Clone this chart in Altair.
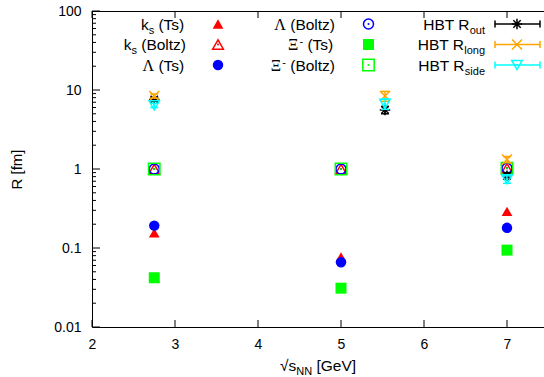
import altair as alt
import pandas as pd

# ---------------- data ----------------
x_particles = [2.75, 5.0, 7.0]
ks_ts = [0.155, 0.077, 0.29]
ks_boltz = [1.0, 1.0, 1.02]
lambda_ts = [0.192, 0.066, 0.18]
lambda_boltz = [1.0, 1.0, 1.02]
xi_ts = [0.042, 0.031, 0.094]
xi_boltz = [1.0, 1.0, 1.02]

x_hbt = [2.75, 5.53, 7.0]
r_out = [7.6, 5.6, 0.82]
r_out_err = [0.4, 0.6, 0.08]
r_long = [8.4, 8.4, 1.32]
r_long_err = [0.5, 1.2, 0.12]
r_side = [6.4, 6.7, 0.74]
r_side_err = [0.4, 1.0, 0.08]

x_tick_values = [2, 3, 4, 5, 6, 7]
y_tick_values = [0.01, 0.1, 1, 10, 100]
y_minor_values = [m * 10.0 ** e for e in range(-2, 2) for m in range(2, 10)]

# ---------------- layout / style ----------------
W, H = 452, 316
PX_PER_UNIT = 83
FONT = "Liberation Sans"
GREEK_FONT = "Liberation Serif"
FS = {"n": 15.5, "g": 16, "sub": 11, "sup": 11}
SHIFT = {"n": 0, "g": 0, "sub": 4, "sup": -5}

RED, BLUE, GREEN = "#ff0000", "#0000ff", "#00ff00"
ORANGE, CYAN, BLACK = "#ffa500", "#00ffff", "#000000"

STAR = "M-1,0L1,0M0,-1L0,1M-0.7,-0.7L0.7,0.7M-0.7,0.7L0.7,-0.7"
CROSS = "M-1,-1L1,1M-1,1L1,-1"
HCAP = "M-1,0L1,0"

xscale = alt.Scale(domain=[2, 2 + W / PX_PER_UNIT], nice=False, zero=False)
yscale = alt.Scale(type="log", domain=[0.01, 100], nice=False)

X_AXIS = alt.Axis(
    values=x_tick_values, ticks=False, tickSize=0, grid=False,
    domainColor=BLACK, domainWidth=1, labelFont=FONT, labelFontSize=14,
    labelColor=BLACK, labelPadding=10, labelFlush=False,
    labelOverlap=False, title=None)
Y_AXIS = alt.Axis(
    values=y_tick_values, format="~g", ticks=False, tickSize=0,
    grid=False, domainColor=BLACK, domainWidth=1, labelFont=FONT,
    labelFontSize=14, labelColor=BLACK, labelPadding=11,
    labelFlush=False, labelOverlap=False, title="R [fm]",
    titleFont=FONT, titleFontSize=15, titleFontWeight="normal",
    titleColor=BLACK, titleX=-76, titleY=H / 2, titleAngle=270,
    titleAlign="center", titleBaseline="middle")


def XF(field):
    return alt.X(field, scale=xscale, axis=X_AXIS)


def YF(field):
    return alt.Y(field, scale=yscale, axis=Y_AXIS)


layers = []

# ---- axes & inward ticks ----
xt = pd.DataFrame({"v": x_tick_values})
layers.append(alt.Chart(xt).mark_rule(color=BLACK, strokeWidth=1).encode(
    x=XF("v:Q"), y=alt.value(H), y2=alt.value(H - 7)))
layers.append(alt.Chart(xt).mark_rule(color=BLACK, strokeWidth=1).encode(
    x=XF("v:Q"), y=alt.value(0), y2=alt.value(7)))

yt = pd.DataFrame({"v": y_tick_values})
layers.append(alt.Chart(yt).mark_rule(color=BLACK, strokeWidth=1).encode(
    y=YF("v:Q"), x=alt.value(0), x2=alt.value(8)))
ym = pd.DataFrame({"v": y_minor_values})
layers.append(alt.Chart(ym).mark_rule(color=BLACK, strokeWidth=1).encode(
    y=YF("v:Q"), x=alt.value(0), x2=alt.value(4)))

# top frame line
layers.append(
    alt.Chart(pd.DataFrame({"a": [0]})).mark_rule(color=BLACK, strokeWidth=1).encode(
        x=alt.value(0), x2=alt.value(W), y=alt.value(0.5)))


def points(xv, yv, shape, color, filled, size, sw=1.5, dot=False):
    df = pd.DataFrame({"x": xv, "y": yv})
    out = [alt.Chart(df).mark_point(shape=shape, filled=filled, size=size,
                                    color=color, strokeWidth=sw, opacity=1)
           .encode(x=XF("x:Q"), y=YF("y:Q"))]
    if dot:
        out.append(alt.Chart(df).mark_point(shape="circle", filled=True, size=4,
                                            color=color, opacity=1)
                   .encode(x=XF("x:Q"), y=YF("y:Q")))
    return out


def errbars(xv, yv, ev, color):
    df = pd.DataFrame({"x": xv,
                       "lo": [a - b for a, b in zip(yv, ev)],
                       "hi": [a + b for a, b in zip(yv, ev)]})
    out = [alt.Chart(df).mark_rule(color=color, strokeWidth=1.5).encode(
        x=XF("x:Q"), y=YF("lo:Q"), y2="hi:Q")]
    for col in ("lo", "hi"):
        out.append(alt.Chart(df).mark_point(shape=HCAP, size=64, color=color,
                                            strokeWidth=1.5, opacity=1)
                   .encode(x=XF("x:Q"), y=YF(col + ":Q")))
    return out


# ---- data marks ----
layers += points(x_particles, ks_ts, "triangle-up", RED, True, 115)
layers += points(x_particles, ks_boltz, "triangle-up", RED, False, 115, dot=True)
layers += points(x_particles, lambda_ts, "circle", BLUE, True, 110)
layers += points(x_particles, lambda_boltz, "circle", BLUE, False, 100, dot=True)
layers += points(x_particles, xi_ts, "square", GREEN, True, 121)
layers += points(x_particles, xi_boltz, "square", GREEN, False, 130, dot=True)

layers += errbars(x_hbt, r_out, r_out_err, BLACK)
layers += points(x_hbt, r_out, STAR, BLACK, False, 110, sw=1.5)
layers += errbars(x_hbt, r_long, r_long_err, ORANGE)
layers += points(x_hbt, r_long, CROSS, ORANGE, False, 100, sw=1.5)
layers += errbars(x_hbt, r_side, r_side_err, CYAN)
layers += points(x_hbt, r_side, "triangle-down", CYAN, False, 110, sw=1.5, dot=True)

# ---- text with sub/superscripts ----
W_SANS = {" ": 278, "(": 333, ")": 333, "T": 611, "s": 500, "B": 667, "o": 556,
          "l": 222, "t": 278, "z": 500, "u": 556, "n": 556, "g": 556, "i": 222,
          "d": 556, "e": 556, "H": 722, "R": 722, "k": 500, "-": 333, "N": 722,
          "G": 778, "V": 667, "[": 278, "]": 278, "\u221a": 549}
W_GREEK = {"\u039b": 722, "\u039e": 722}


def seg_w(text, kind):
    table = W_GREEK if kind == "g" else W_SANS
    return sum(table.get(c, 556) for c in text) / 1000.0 * FS[kind]


def text_run(segs, x_start, baseline):
    out = []
    x = x_start
    for text, kind in segs:
        w = seg_w(text, kind)
        lead = len(text) - len(text.lstrip(" "))
        draw_x = x + seg_w(" " * lead, kind)
        t = text.strip(" ")
        out.append(alt.Chart(pd.DataFrame({"t": [t]})).mark_text(
            align="left", baseline="alphabetic",
            font=GREEK_FONT if kind == "g" else FONT,
            fontSize=FS[kind], color=BLACK).encode(
            text="t:N", x=alt.value(draw_x), y=alt.value(baseline + SHIFT[kind])))
        x += w
    return out


def run_width(segs):
    return sum(seg_w(t, k) for t, k in segs)


ROWS = [13, 33.5, 54]
legend = [
    ([("k", "n"), ("s", "sub"), (" (Ts)", "n")], 94, 0, ("triangle-up", RED, True, 115, False)),
    ([("k", "n"), ("s", "sub"), (" (Boltz)", "n")], 94, 1, ("triangle-up", RED, False, 115, True)),
    ([("\u039b", "g"), (" (Ts)", "n")], 94, 2, ("circle", BLUE, True, 110, False)),
    ([("\u039b", "g"), (" (Boltz)", "n")], 243, 0, ("circle", BLUE, False, 100, True)),
    ([("\u039e", "g"), ("-", "sup"), (" (Ts)", "n")], 243, 1, ("square", GREEN, True, 121, False)),
    ([("\u039e", "g"), ("-", "sup"), (" (Boltz)", "n")], 243, 2, ("square", GREEN, False, 130, True)),
    ([("HBT R", "n"), ("out", "sub")], 393, 0, (STAR, BLACK, False, 110, False)),
    ([("HBT R", "n"), ("long", "sub")], 393, 1, (CROSS, ORANGE, False, 100, False)),
    ([("HBT R", "n"), ("side", "sub")], 393, 2, ("triangle-down", CYAN, False, 110, True)),
]
SYM_X = {94: 126, 243: 276.5, 393: 425}

one = pd.DataFrame({"a": [0]})
for segs, right, row, (shape, color, filled, size, dot) in legend:
    cy = ROWS[row]
    layers += text_run(segs, right - run_width(segs), cy + 5.5)
    sx = SYM_X[right]
    if right == 393:
        layers.append(alt.Chart(one).mark_rule(color=color, strokeWidth=1.5).encode(
            x=alt.value(403), x2=alt.value(448), y=alt.value(cy)))
        for ex in (403, 448):
            layers.append(alt.Chart(one).mark_rule(color=color, strokeWidth=1.5).encode(
                x=alt.value(ex), y=alt.value(cy - 3.5), y2=alt.value(cy + 3.5)))
    layers.append(alt.Chart(one).mark_point(shape=shape, filled=filled, size=size,
                                            color=color, strokeWidth=1.5, opacity=1)
                  .encode(x=alt.value(sx), y=alt.value(cy)))
    if dot:
        layers.append(alt.Chart(one).mark_point(shape="circle", filled=True, size=4,
                                                color=color, opacity=1)
                      .encode(x=alt.value(sx), y=alt.value(cy)))

# x-axis title  sqrt(s_NN) [GeV]
xt_segs = [("\u221as", "n"), ("NN", "sub"), (" [GeV]", "n")]
layers += text_run(xt_segs, 226 - run_width(xt_segs) / 2, 360)

chart = alt.layer(*layers).properties(
    width=W, height=H,
    padding={"left": 92, "top": 11, "right": 0, "bottom": 50},
    autosize=alt.AutoSizeParams(type="none"),
    background="white",
).configure_view(stroke=None)

chart.save("out.html", embed_options={"renderer": "svg", "actions": False})
